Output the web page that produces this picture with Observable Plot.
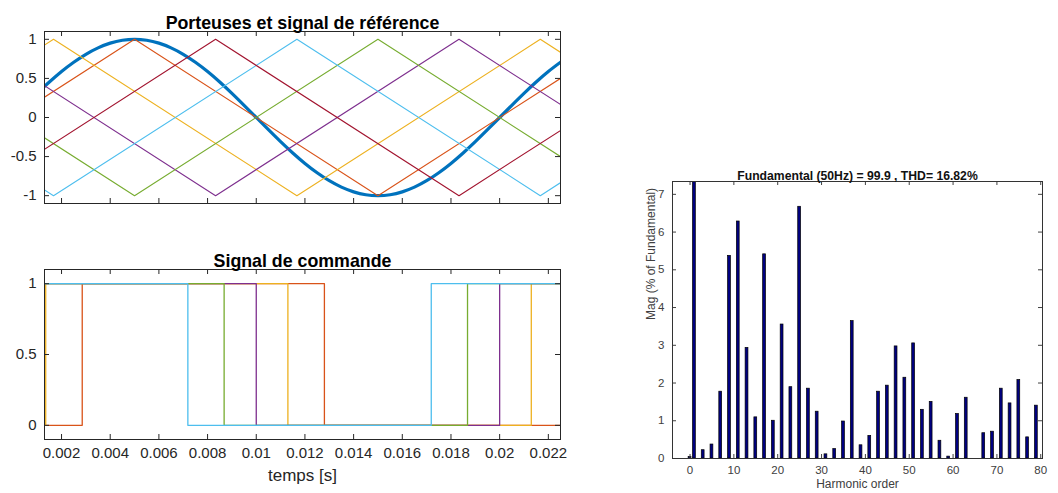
<!DOCTYPE html>
<html>
<head>
<meta charset="utf-8">
<script src="https://cdn.jsdelivr.net/npm/d3@7"></script>
<script src="https://cdn.jsdelivr.net/npm/@observablehq/plot@0.6"></script>
<style>
  html, body { margin: 0; padding: 0; background: #fff; }
  #wrap { position: relative; width: 1058px; height: 493px; overflow: hidden; background: #fff; }
  #wrap svg { position: absolute; }
</style>
</head>
<body>
<div id="wrap"></div>
<script>
// ---------------- data ----------------
const topTitle = "Porteuses et signal de référence";
const bottomTitle = "Signal de commande";
const timeLabel = "temps [s]";
const spectrumTitle = "Fundamental (50Hz) = 99.9 , THD= 16.82%";
const spectrumXLabel = "Harmonic order";
const spectrumYLabel = "Mag (% of Fundamental)";

const timeDomain = [0.0013, 0.0225];
const timeTicks = [0.002, 0.004, 0.006, 0.008, 0.010, 0.012, 0.014, 0.016, 0.018, 0.020, 0.022];
const timeTickLabels = ["0.002", "0.004", "0.006", "0.008", "0.01", "0.012", "0.014", "0.016", "0.018", "0.02", "0.022"];
const ampTicks = [-1, -0.5, 0, 0.5, 1];
const ampTickLabels = ["-1", "-0.5", "0", "0.5", "1"];
const cmdTicks = [0, 0.5, 1];
const cmdTickLabels = ["0", "0.5", "1"];

// reference signal
const refTimes = [0.0013, 0.0015, 0.002, 0.0025, 0.003, 0.0035, 0.004, 0.0045, 0.005, 0.0055, 0.006, 0.0065, 0.007, 0.0075, 0.008, 0.0085, 0.009, 0.0095, 0.010,
  0.0105, 0.011, 0.0115, 0.012, 0.0125, 0.013, 0.0135, 0.014, 0.0145, 0.015, 0.0155, 0.016, 0.0165, 0.017, 0.0175, 0.018, 0.0185, 0.019, 0.0195, 0.020,
  0.0205, 0.021, 0.0215, 0.022, 0.0225];
const refValues = [0.397, 0.454, 0.588, 0.707, 0.809, 0.891, 0.951, 0.988, 1, 0.988, 0.951, 0.891, 0.809, 0.707, 0.588, 0.454, 0.309, 0.156, 0,
  -0.156, -0.309, -0.454, -0.588, -0.707, -0.809, -0.891, -0.951, -0.988, -1, -0.988, -0.951, -0.891, -0.809, -0.707, -0.588, -0.454, -0.309, -0.156, 0,
  0.156, 0.309, 0.454, 0.588, 0.707];

// carriers: vertex times and values
const carrierColors = ["#D95319", "#EDB120", "#7E2F8E", "#77AC30", "#4DBEEE", "#A2142F"];
const carrierTimes = [
  [-0.005, 0.005, 0.015, 0.025],
  [-0.00833, 0.00167, 0.01167, 0.02167, 0.03167],
  [-0.00167, 0.00833, 0.01833, 0.02833],
  [-0.005, 0.005, 0.015, 0.025],
  [-0.00833, 0.00167, 0.01167, 0.02167, 0.03167],
  [-0.00167, 0.00833, 0.01833, 0.02833]
];
const carrierValues = [
  [-1, 1, -1, 1],
  [-1, 1, -1, 1, -1],
  [1, -1, 1, -1],
  [1, -1, 1, -1],
  [1, -1, 1, -1, 1],
  [-1, 1, -1, 1]
];

// command signals: switching times and levels (step-after)
const commandColors = ["#D95319", "#EDB120", "#7E2F8E", "#77AC30", "#4DBEEE"];
const commandTimes = [
  [0.0013, 0.00285, 0.0128, 0.0225],
  [0.0013, 0.00135, 0.0113, 0.0213, 0.0225],
  [0.0013, 0.0100, 0.0200, 0.0225],
  [0.0013, 0.00868, 0.01868, 0.0225],
  [0.0013, 0.00719, 0.01719, 0.0225]
];
const commandValues = [
  [0, 1, 0, 0],
  [0, 1, 0, 1, 1],
  [1, 0, 1, 1],
  [1, 0, 1, 1],
  [1, 0, 1, 1]
];

// harmonic spectrum
const harmonicOrder = [0, 1, 3, 5, 7, 9, 11, 13, 15, 17, 19, 21, 23, 25, 27, 29, 31, 33, 35, 37, 39,
  41, 43, 45, 47, 49, 51, 53, 55, 57, 59, 61, 63, 65, 67, 69, 71, 73, 75, 77, 79];
const harmonicMag = [0.04, 99.9, 0.22, 0.37, 1.77, 5.37, 6.28, 2.93, 1.09, 5.41, 1.00, 3.55, 1.89, 6.67, 1.85, 1.24, 0.11, 0.25, 0.98, 3.64, 0.35,
  0.60, 1.77, 1.93, 2.97, 2.14, 3.05, 1.29, 1.50, 0.47, 0.05, 1.18, 1.61, 0.00, 0.67, 0.71, 1.85, 1.46, 2.08, 0.56, 1.40];
const harmTicks = [0, 10, 20, 30, 40, 50, 60, 70, 80];
const harmTickLabels = ["0", "10", "20", "30", "40", "50", "60", "70", "80"];
const magTicks = [0, 1, 2, 3, 4, 5, 6, 7];
const magTickLabels = ["0", "1", "2", "3", "4", "5", "6", "7"];

// ---------------- drawing ----------------
const FONT = '"Liberation Sans", Arial, Helvetica, sans-serif';
const AXC = "#262626";
const wrap = document.getElementById("wrap");
function place(svg, left, top) {
  svg.style.left = left + "px";
  svg.style.top = top + "px";
  wrap.appendChild(svg);
}
function inwardTicks(xt, yt, fw, fh, len, color) {
  return [
    Plot.tickX(xt, {x: d => d, insetTop: fh - len, stroke: color, strokeWidth: 1}),
    Plot.tickX(xt, {x: d => d, insetBottom: fh - len, stroke: color, strokeWidth: 1}),
    Plot.tickY(yt, {y: d => d, insetRight: fw - len, stroke: color, strokeWidth: 1}),
    Plot.tickY(yt, {y: d => d, insetLeft: fw - len, stroke: color, strokeWidth: 1})
  ];
}

// --- top-left: carriers and reference ---
{
  const W = 570, H = 215, mL = 44, mR = 10, mT = 31, mB = 12;
  const fw = W - mL - mR, fh = H - mT - mB;
  const refData = refTimes.map((t, i) => ({t, v: refValues[i]}));
  const svg = Plot.plot({
    width: W, height: H, marginLeft: mL, marginRight: mR, marginTop: mT, marginBottom: mB,
    style: {fontFamily: FONT, fontSize: "15px", color: AXC, background: "transparent", overflow: "visible"},
    x: {domain: timeDomain, axis: null},
    y: {domain: [-1.1, 1.1], label: null},
    marks: [
      Plot.line(refData, {x: "t", y: "v", stroke: "#0072BD", strokeWidth: 3.2, curve: "natural", clip: true}),
      ...carrierTimes.map((ts, k) => Plot.line(ts.map((t, i) => ({t, v: carrierValues[k][i]})),
        {x: "t", y: "v", stroke: carrierColors[k], strokeWidth: 1.1, clip: true})),
      ...inwardTicks(timeTicks, ampTicks, fw, fh, 5, AXC),
      Plot.frame({stroke: AXC, strokeWidth: 1}),
      Plot.axisY(ampTicks, {anchor: "left", tickSize: 0, tickPadding: 8, label: null,
        tickFormat: d => ampTickLabels[ampTicks.indexOf(d)]}),
      Plot.text([topTitle], {text: d => d, frameAnchor: "top", dy: -15.5, fontWeight: "bold", fontSize: 17.8, fill: "#000"})
    ]
  });
  place(svg, 0, 0);
}

// --- bottom-left: command signals ---
{
  const W = 570, H = 253, mL = 44, mR = 10, mT = 29, mB = 54;
  const fw = W - mL - mR, fh = H - mT - mB;
  const svg = Plot.plot({
    width: W, height: H, marginLeft: mL, marginRight: mR, marginTop: mT, marginBottom: mB,
    style: {fontFamily: FONT, fontSize: "15px", color: AXC, background: "transparent", overflow: "visible"},
    x: {domain: timeDomain, label: null},
    y: {domain: [-0.1, 1.1], label: null},
    marks: [
      ...commandTimes.map((ts, k) => Plot.line(ts.map((t, i) => ({t, v: commandValues[k][i]})),
        {x: "t", y: "v", stroke: commandColors[k], strokeWidth: 1.3, curve: "step-after", clip: true})),
      ...inwardTicks(timeTicks, cmdTicks, fw, fh, 5, AXC),
      Plot.frame({stroke: AXC, strokeWidth: 1}),
      Plot.axisY(cmdTicks, {anchor: "left", tickSize: 0, tickPadding: 8, label: null,
        tickFormat: d => cmdTickLabels[cmdTicks.indexOf(d)]}),
      Plot.axisX(timeTicks, {anchor: "bottom", tickSize: 0, tickPadding: 8, label: null,
        tickFormat: d => timeTickLabels[timeTicks.indexOf(d)]}),
      Plot.text([bottomTitle], {text: d => d, frameAnchor: "top", dy: -15.5, fontWeight: "bold", fontSize: 17.8, fill: "#000"}),
      Plot.text([timeLabel], {text: d => d, frameAnchor: "bottom", dy: 41, fontSize: 17, fill: AXC})
    ]
  });
  place(svg, 0, 240);
}

// --- right: harmonic spectrum ---
{
  const W = 458, H = 353, mL = 72, mR = 16, mT = 41, mB = 35;
  const fw = W - mL - mR, fh = H - mT - mB;
  const GREY = "#404040";
  const barHalf = 0.32;
  const bars = harmonicOrder.map((h, i) => ({h, m: harmonicMag[i]}));
  const svg = Plot.plot({
    width: W, height: H, marginLeft: mL, marginRight: mR, marginTop: mT, marginBottom: mB,
    style: {fontFamily: FONT, fontSize: "11.5px", color: GREY, background: "transparent", overflow: "visible"},
    x: {domain: [-4, 80.4], label: null},
    y: {domain: [0, 7.34], label: null},
    marks: [
      Plot.rect(bars, {x1: d => d.h - barHalf, x2: d => d.h + barHalf, y1: 0, y2: "m",
        fill: "#000080", stroke: "#000", strokeWidth: 0.7, clip: true}),
      ...inwardTicks(harmTicks, magTicks, fw, fh, 4, GREY),
      Plot.frame({stroke: "#333", strokeWidth: 1}),
      Plot.axisY(magTicks, {anchor: "left", tickSize: 0, tickPadding: 8, label: null,
        tickFormat: d => magTickLabels[magTicks.indexOf(d)]}),
      Plot.axisX(harmTicks, {anchor: "bottom", tickSize: 0, tickPadding: 7, label: null,
        tickFormat: d => harmTickLabels[harmTicks.indexOf(d)]}),
      Plot.text([spectrumTitle], {text: d => d, frameAnchor: "top", dy: -10.5, fontWeight: "bold", fontSize: 12.2, fill: "#111"}),
      Plot.text([spectrumXLabel], {text: d => d, frameAnchor: "bottom", dy: 29, fontSize: 12, fill: GREY}),
      Plot.text([spectrumYLabel], {text: d => d, frameAnchor: "left", dx: -21, rotate: -90, fontSize: 12, fill: GREY})
    ]
  });
  place(svg, 600, 140);
}
</script>
</body>
</html>
